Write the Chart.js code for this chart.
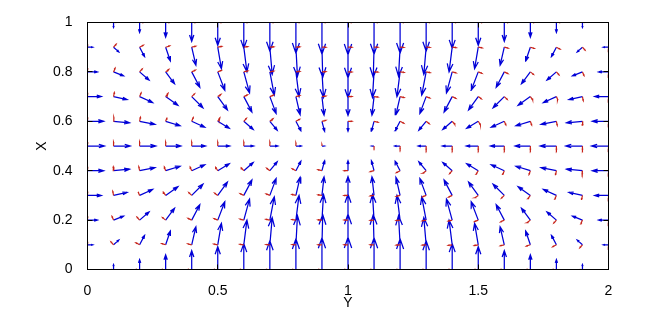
<!DOCTYPE html>
<html>
<head>
<meta charset="utf-8">
<script src="https://cdn.jsdelivr.net/npm/chart.js@4"></script>
<style>
  html, body { margin: 0; padding: 0; background: #fff; }
</style>
</head>
<body>
<canvas id="quiver" width="672" height="315"></canvas>
<script>
// grid positions
const xs = [0, 0.1, 0.2, 0.3, 0.4, 0.5, 0.6, 0.7, 0.8, 0.9, 1, 1.1, 1.2, 1.3, 1.4, 1.5, 1.6, 1.7, 1.8, 1.9, 2];
const ys = [0, 0.1, 0.2, 0.3, 0.4, 0.5, 0.6, 0.7, 0.8, 0.9, 1];

// blue arrows, thousandths of an axis unit, one row per ys value
const uRows = [
  [0, 0, 0, 0, 0, 0, 0, 0, 0, 0, 0, 0, 0, 0, 0, 0, 0, 0, 0, 0, 0],
  [20, 20, 19, 18, 16, 14, 12, 9, 6, 3, 0, -3, -6, -9, -12, -14, -16, -18, -19, -20, -20],
  [38, 38, 36, 34, 31, 27, 22, 17, 12, 6, 0, -6, -12, -17, -22, -27, -31, -34, -36, -38, -38],
  [53, 52, 50, 47, 43, 37, 31, 24, 16, 8, 0, -8, -16, -24, -31, -37, -43, -47, -50, -52, -53],
  [62, 61, 59, 55, 50, 44, 36, 28, 19, 10, 0, -10, -19, -28, -36, -44, -50, -55, -59, -61, -62],
  [65, 64, 62, 58, 53, 46, 38, 30, 20, 10, 0, -10, -20, -30, -38, -46, -53, -58, -62, -64, -65],
  [62, 61, 59, 55, 50, 44, 36, 28, 19, 10, 0, -10, -19, -28, -36, -44, -50, -55, -59, -61, -62],
  [53, 52, 50, 47, 43, 37, 31, 24, 16, 8, 0, -8, -16, -24, -31, -37, -43, -47, -50, -52, -53],
  [38, 38, 36, 34, 31, 27, 22, 17, 12, 6, 0, -6, -12, -17, -22, -27, -31, -34, -36, -38, -38],
  [20, 20, 19, 18, 16, 14, 12, 9, 6, 3, 0, -3, -6, -9, -12, -14, -16, -18, -19, -20, -20],
  [0, 0, 0, 0, 0, 0, 0, 0, 0, 0, 0, 0, 0, 0, 0, 0, 0, 0, 0, 0, 0]
];
const vRows = [
  [0, 20, 40, 59, 76, 92, 105, 116, 124, 128, 130, 128, 124, 116, 105, 92, 76, 59, 40, 20, 0],
  [0, 19, 38, 56, 73, 87, 100, 110, 118, 122, 124, 122, 118, 110, 100, 87, 73, 56, 38, 19, 0],
  [0, 16, 33, 48, 62, 74, 85, 94, 100, 104, 105, 104, 100, 94, 85, 74, 62, 48, 33, 16, 0],
  [0, 12, 24, 35, 45, 54, 62, 68, 73, 75, 76, 75, 73, 68, 62, 54, 45, 35, 24, 12, 0],
  [0, 6, 12, 18, 24, 28, 33, 36, 38, 40, 40, 40, 38, 36, 33, 28, 24, 18, 12, 6, 0],
  [0, 0, 0, 0, 0, 0, 0, 0, 0, 0, 0, 0, 0, 0, 0, 0, 0, 0, 0, 0, 0],
  [0, -6, -12, -18, -24, -28, -33, -36, -38, -40, -40, -40, -38, -36, -33, -28, -24, -18, -12, -6, 0],
  [0, -12, -24, -35, -45, -54, -62, -68, -73, -75, -76, -75, -73, -68, -62, -54, -45, -35, -24, -12, 0],
  [0, -16, -33, -48, -62, -74, -85, -94, -100, -104, -105, -104, -100, -94, -85, -74, -62, -48, -33, -16, 0],
  [0, -19, -38, -56, -73, -87, -100, -110, -118, -122, -124, -122, -118, -110, -100, -87, -73, -56, -38, -19, 0],
  [0, -20, -40, -59, -76, -92, -105, -116, -124, -128, -130, -128, -124, -116, -105, -92, -76, -59, -40, -20, 0]
];

// small red arrows, same units
const ruRows = [
  [0, -11, -15, -15, -15, -15, -15, -15, -15, -15, -15, -15, -15, -15, -15, -15, -15, -15, -15, -11, 0],
  [0, -10, -14, -15, -15, -15, -15, -15, -15, -15, -15, -15, -15, -15, -15, -15, -15, -15, -14, -10, 0],
  [0, -6, -10, -12, -14, -14, -15, -15, -15, -15, -15, -15, -15, -15, -15, -14, -14, -12, -10, -6, 0],
  [0, -3, -6, -9, -11, -12, -14, -14, -15, -15, -15, -15, -15, -14, -14, -12, -11, -9, -6, -3, 0],
  [0, -1, -3, -5, -6, -8, -10, -12, -14, -15, -15, -15, -14, -12, -10, -8, -6, -5, -3, -1, 0],
  [0, 0, 0, 0, 0, 0, 0, 0, 0, 0, 0, 0, 0, 0, 0, 0, 0, 0, 0, 0, 0],
  [0, 1, 3, 5, 6, 8, 10, 12, 14, 15, 15, 15, 14, 12, 10, 8, 6, 5, 3, 1, 0],
  [0, 3, 6, 9, 11, 12, 14, 14, 15, 15, 15, 15, 15, 14, 14, 12, 11, 9, 6, 3, 0],
  [0, 6, 10, 12, 14, 14, 15, 15, 15, 15, 15, 15, 15, 15, 15, 14, 14, 12, 10, 6, 0],
  [0, 10, 14, 15, 15, 15, 15, 15, 15, 15, 15, 15, 15, 15, 15, 15, 15, 15, 14, 10, 0],
  [0, 11, 15, 15, 15, 15, 15, 15, 15, 15, 15, 15, 15, 15, 15, 15, 15, 15, 15, 11, 0]
];
const rvRows = [
  [0, 0, 0, 0, 0, 0, 0, 0, 0, 0, 0, 0, 0, 0, 0, 0, 0, 0, 0, 0, 0],
  [12, 12, 8, 5, 4, 3, 2, 1, 1, 0, 0, 0, -1, -1, -2, -3, -4, -5, -8, -12, -12],
  [16, 15, 12, 10, 7, 6, 4, 3, 2, 1, 0, -1, -2, -3, -4, -6, -7, -10, -12, -15, -16],
  [16, 16, 15, 13, 11, 9, 7, 6, 4, 2, 0, -2, -4, -6, -7, -9, -11, -13, -15, -16, -16],
  [16, 16, 16, 15, 15, 14, 12, 10, 8, 4, 0, -4, -8, -10, -12, -14, -15, -15, -16, -16, -16],
  [16, 16, 16, 16, 16, 16, 16, 16, 13, 6, 0, -6, -13, -16, -16, -16, -16, -16, -16, -16, -16],
  [16, 16, 16, 15, 15, 14, 12, 10, 8, 4, 0, -4, -8, -10, -12, -14, -15, -15, -16, -16, -16],
  [16, 16, 15, 13, 11, 9, 7, 6, 4, 2, 0, -2, -4, -6, -7, -9, -11, -13, -15, -16, -16],
  [16, 15, 12, 10, 7, 6, 4, 3, 2, 1, 0, -1, -2, -3, -4, -6, -7, -10, -12, -15, -16],
  [12, 12, 8, 5, 4, 3, 2, 1, 1, 0, 0, 0, -1, -1, -2, -3, -4, -5, -8, -12, -12],
  [0, 0, 0, 0, 0, 0, 0, 0, 0, 0, 0, 0, 0, 0, 0, 0, 0, 0, 0, 0, 0]
];

const xTicks = [0, 0.5, 1, 1.5, 2];
const yTicks = [0, 0.2, 0.4, 0.6, 0.8, 1];
const xTitle = 'Y';
const yTitle = 'X';

// matlab style arrow: shaft then two head barbs, broken by null points
function addArrow(list, x, y, u, v) {
  if (u === 0 && v === 0) return;
  const a = 0.33, b = 0.33;
  const tx = x + u, ty = y + v;
  list.push({x: x, y: y}, {x: tx, y: ty}, {x: tx, y: null});
  list.push({x: tx - a * (u + b * v), y: ty - a * (v - b * u)}, {x: tx, y: ty},
            {x: tx - a * (u - b * v), y: ty - a * (v + b * u)}, {x: tx, y: null});
}

function buildField(uR, vR) {
  const pts = [];
  ys.forEach((y, j) => {
    xs.forEach((x, i) => {
      addArrow(pts, x, y, uR[j][i] / 1000, vR[j][i] / 1000);
    });
  });
  return pts;
}

const blueData = buildField(uRows, vRows);
const redData = buildField(ruRows, rvRows);

const font = {family: "'Liberation Sans', Arial, sans-serif", size: 14};

const axesBox = {
  id: 'axesBox',
  afterDraw(chart) {
    const {ctx, chartArea: a, scales} = chart;
    ctx.save();
    ctx.strokeStyle = '#000';
    ctx.lineWidth = 1;
    ctx.strokeRect(a.left, a.top, a.right - a.left, a.bottom - a.top);
    ctx.beginPath();
    xTicks.forEach(t => {
      const px = Math.round(scales.x.getPixelForValue(t) - 0.5) + 0.5;
      ctx.moveTo(px, a.bottom); ctx.lineTo(px, a.bottom - 5);
      ctx.moveTo(px, a.top); ctx.lineTo(px, a.top + 5);
    });
    yTicks.forEach(t => {
      const py = Math.round(scales.y.getPixelForValue(t) - 0.5) + 0.5;
      ctx.moveTo(a.left, py); ctx.lineTo(a.left + 5, py);
      ctx.moveTo(a.right, py); ctx.lineTo(a.right - 5, py);
    });
    ctx.stroke();
    ctx.restore();
  }
};

new Chart(document.getElementById('quiver'), {
  type: 'scatter',
  data: {
    datasets: [
      {
        data: redData,
        showLine: true,
        borderColor: 'rgb(200,35,25)',
        borderWidth: 1.2,
        pointRadius: 0,
        spanGaps: false
      },
      {
        data: blueData,
        showLine: true,
        borderColor: 'rgb(0,0,215)',
        borderWidth: 1.25,
        pointRadius: 0,
        spanGaps: false
      }
    ]
  },
  options: {
    responsive: false,
    animation: false,
    devicePixelRatio: 1,
    layout: {padding: {left: 0, top: 22.5, right: 63.5, bottom: 0}},
    plugins: {legend: {display: false}, tooltip: {enabled: false}},
    scales: {
      x: {
        type: 'linear',
        min: 0,
        max: 2,
        grid: {display: false},
        border: {display: false},
        afterBuildTicks: s => { s.ticks = xTicks.map(v => ({value: v})); },
        afterFit: s => { s.height = 45.5; },
        ticks: {color: '#000', font: font, padding: 5, maxRotation: 0, autoSkip: false,
                callback: v => String(v)},
        title: {display: true, text: xTitle, color: '#000', font: font, padding: {top: 0, bottom: 3}}
      },
      y: {
        type: 'linear',
        min: 0,
        max: 1,
        grid: {display: false},
        border: {display: false},
        afterBuildTicks: s => { s.ticks = yTicks.map(v => ({value: v})); },
        afterFit: s => { s.width = 87.5; },
        ticks: {color: '#000', font: font, padding: 7, autoSkip: false,
                callback: v => String(v)},
        title: {display: true, text: yTitle, color: '#000', font: font, padding: {top: 34, bottom: 0}}
      }
    }
  },
  plugins: [axesBox]
});
</script>
</body>
</html>
